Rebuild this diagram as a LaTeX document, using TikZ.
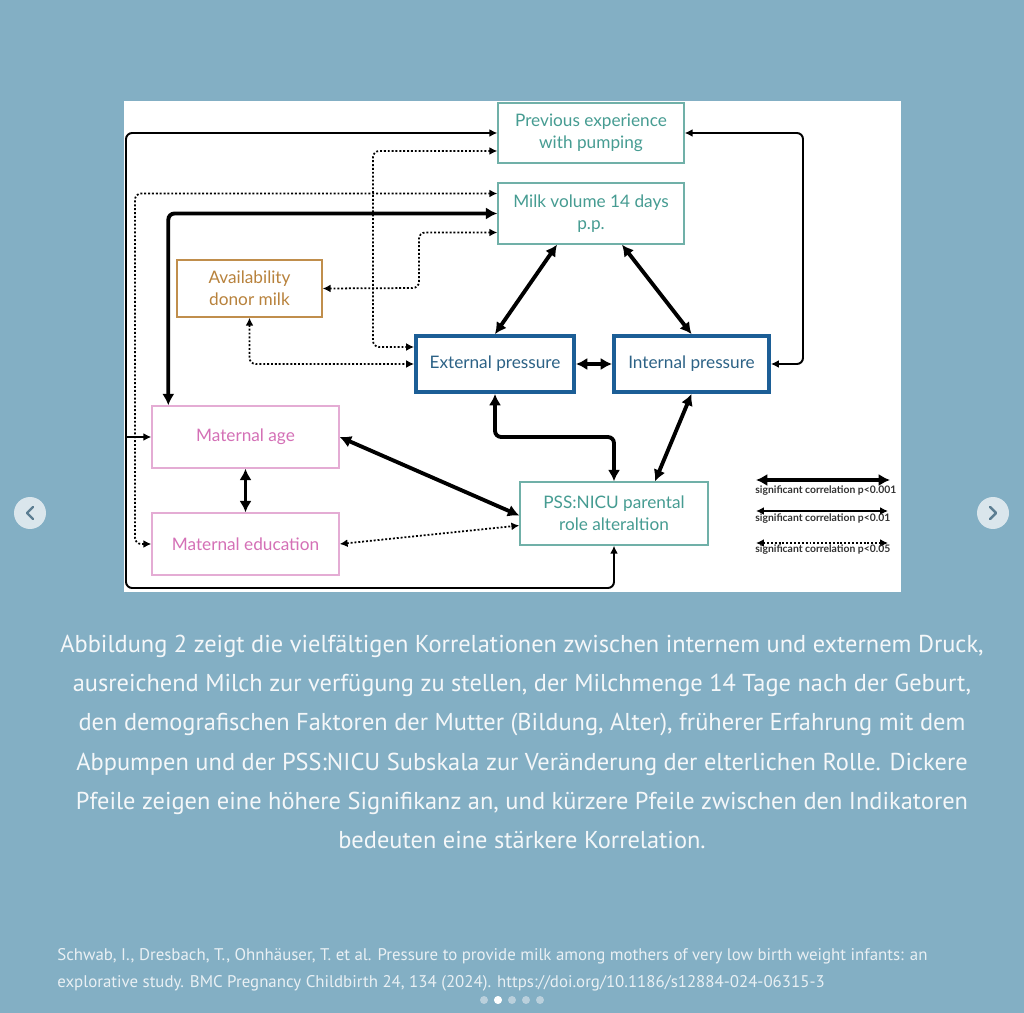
\documentclass[tikz,border=0pt]{standalone}
\usepackage{fontspec}
\setmainfont{Lato}
\newfontfamily\capfont{PT Sans}
\usetikzlibrary{arrows.meta,calc}

\definecolor{slide}{RGB}{131,175,196}
\definecolor{tealbox}{RGB}{112,176,168}
\definecolor{tealtext}{RGB}{70,156,146}
\definecolor{bluebox}{RGB}{28,94,150}
\definecolor{bluetext}{RGB}{44,98,134}
\definecolor{donorbox}{RGB}{192,142,76}
\definecolor{donortext}{RGB}{184,130,60}
\definecolor{pinkbox}{RGB}{228,172,212}
\definecolor{pinktext}{RGB}{212,112,182}
\definecolor{btnfill}{RGB}{218,230,236}
\definecolor{btnmark}{RGB}{92,126,146}
\definecolor{dotoff}{RGB}{186,208,220}
\definecolor{captext}{RGB}{244,247,249}

\newlength\px
\setlength\px{0.02cm}

\tikzset{
  box/.style={draw, line width=0.8pt, align=center, inner sep=2pt,
    font=\fontsize{9.8}{12.5}\selectfont},
  tealnode/.style={box, draw=tealbox, text=tealtext},
  bluenode/.style={box, draw=bluebox, text=bluetext, line width=2.2pt},
  donornode/.style={box, draw=donorbox, text=donortext},
  pinknode/.style={box, draw=pinkbox, text=pinktext},
  p001/.style={line width=2.2pt, rounded corners=3.5pt,
    {Latex[length=6.5pt,width=7pt]}-{Latex[length=6.5pt,width=7pt]}},
  p01/.style={line width=1.1pt, rounded corners=3.5pt,
    {Latex[length=4.5pt,width=4.5pt]}-{Latex[length=4.5pt,width=4.5pt]}},
  p05/.style={line width=1pt, rounded corners=3.5pt, dash pattern=on 1.1pt off 1.1pt,
    {Latex[length=4.5pt,width=4.5pt]}-{Latex[length=4.5pt,width=4.5pt]}},
  keytext/.style={font=\fontsize{5.9}{7}\selectfont\bfseries, text=black!80,
    anchor=west, inner sep=0pt},
}

\begin{document}
\begin{tikzpicture}[x=0.02cm, y=-0.02cm]
  % slide and panel
  \fill[slide] (0,0) rectangle (1024,1013);
  \useasboundingbox (0,0) rectangle (1024,1013);
  \fill[white] (124,101) rectangle (901,592);

  % boxes
  \node[tealnode, minimum width=186\px, minimum height=60\px] (prev) at (591,133)
    {Previous experience\\with pumping};
  \node[tealnode, minimum width=186\px, minimum height=61\px] (milk) at (591,213.5)
    {Milk volume 14 days\\p.p.};
  \node[donornode, minimum width=145\px, minimum height=57\px] (donor) at (249.5,288.5)
    {Availability\\donor milk};
  \node[bluenode, minimum width=158\px, minimum height=56\px] (ext) at (495,364)
    {External pressure};
  \node[bluenode, minimum width=155\px, minimum height=56\px] (int) at (691.5,364)
    {Internal pressure};
  \node[pinknode, minimum width=187\px, minimum height=62\px] (age) at (245.5,437)
    {Maternal age};
  \node[pinknode, minimum width=187\px, minimum height=62\px] (edu) at (245.5,544)
    {Maternal education};
  \node[tealnode, minimum width=188\px, minimum height=63\px] (pss) at (614,513.5)
    {PSS:NICU parental\\role alteraltion};

  % p<0.01
  \coordinate (agejoin) at (126,437);
  \draw[p01] (prev.west) -| (126,588) -| (pss.south);
  \draw[p01, -{Latex[length=4.5pt,width=4.5pt]}] (agejoin) -- (age.west);
  \draw[p01] (prev.east) -| (803,364) -- (int.east);

  % p<0.05
  \draw[p05] ($(milk.west)+(0,-20)$) -| (135,544) -- (edu.west);
  \draw[p05] ($(prev.west)+(0,18)$) -| (373,347) -- ($(ext.west)+(0,-17)$);
  \draw[p05] ($(milk.west)+(0,19)$) -| (419,288) -- (donor.east);
  \draw[p05] (donor.south) |- (ext.west);
  \draw[p05] (edu.east) -- ($(pss.west)+(0,12)$);

  % p<0.001
  \draw[p001] (milk.west) -| ($(age.north west)+(17,0)$);
  \draw[p001] ($(milk.south)+(-34,0)$) -- (ext.north);
  \draw[p001] ($(milk.south)+(31,0)$) -- (int.north);
  \draw[p001] (ext.east) -- (int.west);
  \draw[p001] (ext.south) |- (614,437) -- (pss.north);
  \draw[p001] (int.south) -- ($(pss.north)+(41,0)$);
  \draw[p001] (age.east) -- ($(pss.west)+(0,2)$);
  \draw[p001] (age.south) -- (edu.north);

  % key
  \begin{scope}
    \clip (124,101) rectangle (901,592);
    \coordinate (k1a) at (756,480); \coordinate (k1b) at (890,480);
    \coordinate (k2a) at (756,511); \coordinate (k2b) at (888,511);
    \coordinate (k3a) at (756,543); \coordinate (k3b) at (888,543);
    \draw[p001] (k1a) -- (k1b);
    \draw[p01] (k2a) -- (k2b);
    \draw[p05] (k3a) -- (k3b);
    \node[keytext] (key1) at (755,491) {significant correlation p<0.001};
    \node[keytext] (key2) at (755,519) {significant correlation p<0.01};
    \node[keytext] (key3) at (755,550) {significant correlation p<0.05};
  \end{scope}

  % caption
  \node[text=captext, align=center, font=\capfont\fontsize{13.9}{22.4}\selectfont] (caption) at (522,742)
    {Abbildung 2 zeigt die vielfältigen Korrelationen zwischen internem und externem Druck,\\
     ausreichend Milch zur verfügung zu stellen, der Milchmenge 14 Tage nach der Geburt,\\
     den demografischen Faktoren der Mutter (Bildung, Alter), früherer Erfahrung mit dem\\
     Abpumpen und der PSS:NICU Subskala zur Veränderung der elterlichen Rolle. Dickere\\
     Pfeile zeigen eine höhere Signifikanz an, und kürzere Pfeile zwischen den Indikatoren\\
     bedeuten eine stärkere Korrelation.};
  \node[text=captext!90!slide, align=left, anchor=west, inner sep=0pt,
        font=\capfont\fontsize{9.6}{15.3}\selectfont] (source) at (57,970)
    {Schwab, I., Dresbach, T., Ohnhäuser, T. et al. Pressure to provide milk among mothers of very low birth weight infants: an\\
     explorative study. BMC Pregnancy Childbirth 24, 134 (2024). https://doi.org/10.1186/s12884-024-06315-3};

  % slide controls
  \fill[btnfill] (30,513) circle[radius=0.32cm];
  \fill[btnfill] (993,513) circle[radius=0.32cm];
  \draw[btnmark, line width=1.4pt, line cap=round, line join=round] (33,507) -- (27,513) -- (33,519);
  \draw[btnmark, line width=1.4pt, line cap=round, line join=round] (990,507) -- (996,513) -- (990,519);
  \foreach \i in {0,...,4}
    \fill[dotoff] (484+14*\i,1000) circle[radius=0.08cm];
  \fill[white] (498,1000) circle[radius=0.08cm];
\end{tikzpicture}
\end{document}
